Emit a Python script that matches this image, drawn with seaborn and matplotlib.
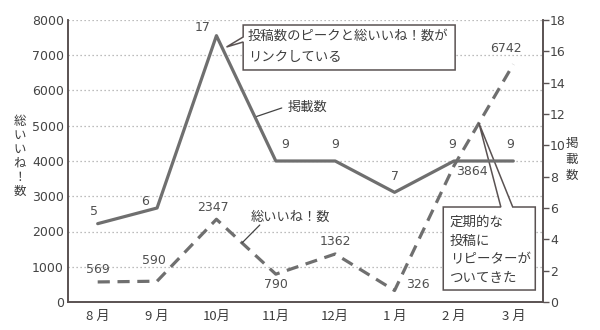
import matplotlib
matplotlib.use("Agg")
import matplotlib.pyplot as plt
import seaborn as sns
import pandas as pd
from matplotlib.patches import Polygon
from matplotlib.lines import Line2D

# ---- data ----
months = ["8 月", "9 月", "10月", "11月", "12月", "1 月", "2 月", "3 月"]
posts = [5, 6, 17, 9, 9, 7, 9, 9]                      # 掲載数
likes = [569, 590, 2347, 790, 1362, 326, 3864, 6742]   # 総いいね！数

left_ticks = [0, 1000, 2000, 3000, 4000, 5000, 6000, 7000, 8000]
right_ticks = [0, 2, 4, 6, 8, 10, 12, 14, 16, 18]

sns.set_theme(style="white")
plt.rcParams["font.family"] = ["Noto Sans CJK JP", "DejaVu Sans"]

NUM_FONT = ["DejaVu Sans"]
LINE = "#6f6f6f"
AXIS = "#5a5252"
TEXT = "#3c3c3c"
NUM = "#505050"

df = pd.DataFrame({"x": range(len(months)), "posts": posts, "likes": likes})

fig = plt.figure(figsize=(6.0, 3.3), dpi=100)
ax = fig.add_axes([68 / 600, 28 / 330, 475 / 600, 282 / 330])
ax2 = ax.twinx()

# likes on the left axis (dashed)
sns.lineplot(data=df, x="x", y="likes", ax=ax, color=LINE, lw=2.3, zorder=3)
ax.lines[-1].set_dashes((3.8, 2.4))
ax.lines[-1].set_dash_capstyle("butt")

# posts on the right axis (solid)
sns.lineplot(data=df, x="x", y="posts", ax=ax2, color=LINE, lw=2.3, zorder=3)

ax.set_xlim(-0.5, len(months) - 0.5)
ax.set_ylim(0, 8000)
ax2.set_ylim(0, 18)

ax.set_yticks(left_ticks)
ax2.set_yticks(right_ticks)
ax.set_xticks(range(len(months)))
ax.set_xticklabels(months)
ax.set_xticks([i + 0.5 for i in range(len(months) - 1)], minor=True)

for a in (ax, ax2):
    a.set_xlabel("")
    a.set_ylabel("")
    for s in a.spines.values():
        s.set_color(AXIS)
        s.set_linewidth(1.2)
    a.spines["top"].set_visible(False)

ax.tick_params(axis="y", length=0, pad=3, labelsize=9, labelcolor="#444444")
ax.tick_params(axis="x", which="major", length=0, pad=6, labelsize=9.5,
               labelcolor=TEXT)
ax.tick_params(axis="x", which="minor", direction="in", length=6,
               width=1.0, color=AXIS)
ax2.tick_params(axis="y", direction="out", length=4, width=1.0, color=AXIS,
                pad=1, labelsize=9, labelcolor="#444444")
for lab in ax.get_yticklabels() + ax2.get_yticklabels():
    lab.set_family(NUM_FONT)

# dotted horizontal grid
for v in left_ticks[1:]:
    ax.axhline(v, color="#a8a8a8", lw=0.9, ls=(0, (1, 2.2)), zorder=1)

# value labels
post_off = [(-3, 4), (-9, 0), (-10, 1), (6.5, 7), (0, 7), (0, 7), (-1, 7), (-2, 7)]
for i, (v, (dx, dy)) in enumerate(zip(posts, post_off)):
    ax2.annotate(str(v), (i, v), xytext=(dx, dy), textcoords="offset points",
                 ha="center", va="bottom", fontsize=9, color=NUM,
                 family=NUM_FONT)

like_off = [(0, 4), (-2, 10.5), (-2.5, 3.5), (0, -3), (0, 4.5), (16.5, 4),
            (13, -3.8), (-5, 6.5)]
like_va = ["bottom", "bottom", "bottom", "top", "bottom", "center", "center",
           "bottom"]
for i, (v, (dx, dy)) in enumerate(zip(likes, like_off)):
    ax.annotate(str(v), (i, v), xytext=(dx, dy), textcoords="offset points",
                ha="center", va=like_va[i], fontsize=9, color=NUM,
                family=NUM_FONT)

# series name labels with leader lines
ax.text(3.54, 5532, "掲載数", fontsize=9.5, color=TEXT, ha="center",
        va="center", zorder=5)
ax.add_line(Line2D([3.10, 2.65], [5504, 5248], color="#444444", lw=0.9,
                   zorder=5))
ax.text(3.24, 2411, "総いいね！数", fontsize=9.5, color=TEXT, ha="center",
        va="center", zorder=5)
ax.add_line(Line2D([2.73, 2.43], [2184, 1674], color="#444444", lw=0.9,
                   zorder=5))

# callout: peak
top_box = [(2.45, 7858), (6.02, 7858), (6.02, 6582), (2.45, 6582),
           (2.45, 7376), (2.17, 7234), (2.45, 7518)]
ax.add_patch(Polygon(top_box, closed=True, facecolor="white", edgecolor=AXIS,
                     lw=1.1, zorder=6, clip_on=False))
ax.text(2.53, 7263, "投稿数のピークと総いいね！数が\nリンクしている", fontsize=9.6,
        color=TEXT, ha="left", va="center", linespacing=1.65, zorder=7)

# callout: repeaters
bot_box = [(5.82, 2695), (6.79, 2695), (6.42, 5078), (6.99, 2695),
           (7.37, 2695), (7.37, 340), (5.82, 340)]
ax.add_patch(Polygon(bot_box, closed=True, facecolor="white", edgecolor=AXIS,
                     lw=1.1, zorder=6, clip_on=False))
ax.text(5.93, 1475, "定期的な\n投稿に\nリピーターが\nついてきた", fontsize=9.7,
        color=TEXT, ha="left", va="center", linespacing=1.45, zorder=7)

# stacked axis titles
fig.text(19.5 / 600, 1 - 156.5 / 330, "\n".join("総いいね！数"), fontsize=9,
         color=TEXT, ha="center", va="center", linespacing=1.1)
fig.text(572 / 600, 1 - 159 / 330, "\n".join("掲載数"), fontsize=9,
         color=TEXT, ha="center", va="center", linespacing=1.3)

fig.savefig("out.png", dpi=100)
